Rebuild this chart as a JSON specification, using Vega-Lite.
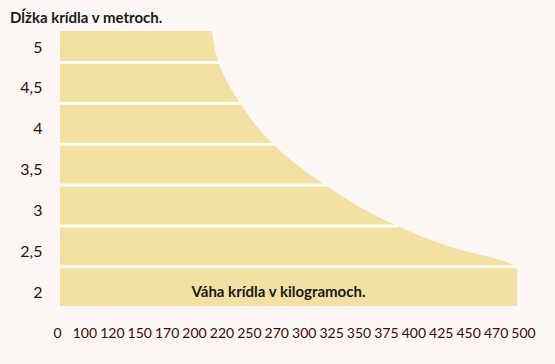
{
  "$schema": "https://vega.github.io/schema/vega-lite/v6.json",
  "width": 466,
  "height": 275,
  "autosize": "none",
  "padding": {"left": 60, "top": 31, "right": 29, "bottom": 58},
  "background": "#fcf7f5",
  "config": {"view": {"stroke": null}},
  "title": {
    "text": "Dĺžka krídla v metroch.",
    "anchor": "start",
    "frame": "group",
    "dx": -50,
    "offset": -7,
    "baseline": "alphabetic",
    "font": "Lato",
    "fontSize": 15,
    "fontWeight": "bold",
    "color": "#1a1a1a"
  },
  "datasets": {
    "curve": [
      {"len": 1.77, "w": 16.673},
      {"len": 2.235, "w": 16.673},
      {"len": 2.272, "w": 16.527},
      {"len": 2.504, "w": 14.155},
      {"len": 2.774, "w": 12.149},
      {"len": 3.275, "w": 9.559},
      {"len": 3.765, "w": 7.734},
      {"len": 4.255, "w": 6.567},
      {"len": 4.769, "w": 5.764},
      {"len": 5.136, "w": 5.545}
    ],
    "gaps": [
      {"len": 4.75, "w0": 0, "w": 5.85},
      {"len": 4.25, "w0": 0, "w": 6.65},
      {"len": 3.75, "w0": 0, "w": 7.85},
      {"len": 3.25, "w0": 0, "w": 9.75},
      {"len": 2.75, "w0": 0, "w": 12.35},
      {"len": 2.25, "w0": 0, "w": 16.673}
    ]
  },
  "encoding": {
    "y": {
      "field": "len",
      "type": "quantitative",
      "scale": {"domain": [1.77, 5.135], "nice": false, "zero": false},
      "axis": {
        "values": [2, 2.5, 3, 3.5, 4, 4.5, 5],
        "labelExpr": "replace(format(datum.value, '~g'), '.', ',')",
        "title": null,
        "domain": false,
        "ticks": false,
        "grid": false,
        "labelPadding": 18,
        "labelOffset": 5,
        "labelFont": "Lato",
        "labelFontSize": 16,
        "labelColor": "#3b0a0a"
      }
    },
    "x": {
      "field": "w",
      "type": "quantitative",
      "scale": {"domain": [0, 17], "nice": false},
      "stack": null,
      "axis": {
        "zindex": 1,
        "values": [0, 1, 2, 3, 4, 5, 6, 7, 8, 9, 10, 11, 12, 13, 14, 15, 16, 17],
        "labelExpr": "['0','100','120','150','170','200','220','250','270','300','325','350','375','400','425','450','470','500'][datum.value]",
        "title": "Váha krídla v kilogramoch.",
        "titleY": -10,
        "titleX": 218,
        "titleBaseline": "alphabetic",
        "titleFont": "Lato",
        "titleFontSize": 15,
        "titleFontWeight": "bold",
        "titleColor": "#1a1a1a",
        "domain": false,
        "ticks": false,
        "grid": false,
        "labelOverlap": false,
        "labelFlush": false,
        "labelPadding": 20,
        "labelOffset": -3,
        "labelBaseline": "top",
        "labelFont": "Lato",
        "labelFontSize": 14,
        "labelColor": "#3b0a0a"
      }
    }
  },
  "layer": [
    {
      "data": {"name": "curve"},
      "mark": {"type": "area", "orient": "horizontal", "interpolate": "monotone", "color": "#f2e1a3", "opacity": 1}
    },
    {
      "data": {"name": "gaps"},
      "mark": {"type": "rule", "color": "#fffdf4", "strokeWidth": 3},
      "encoding": {
        "x2": {"field": "w0"}
      }
    }
  ]
}
